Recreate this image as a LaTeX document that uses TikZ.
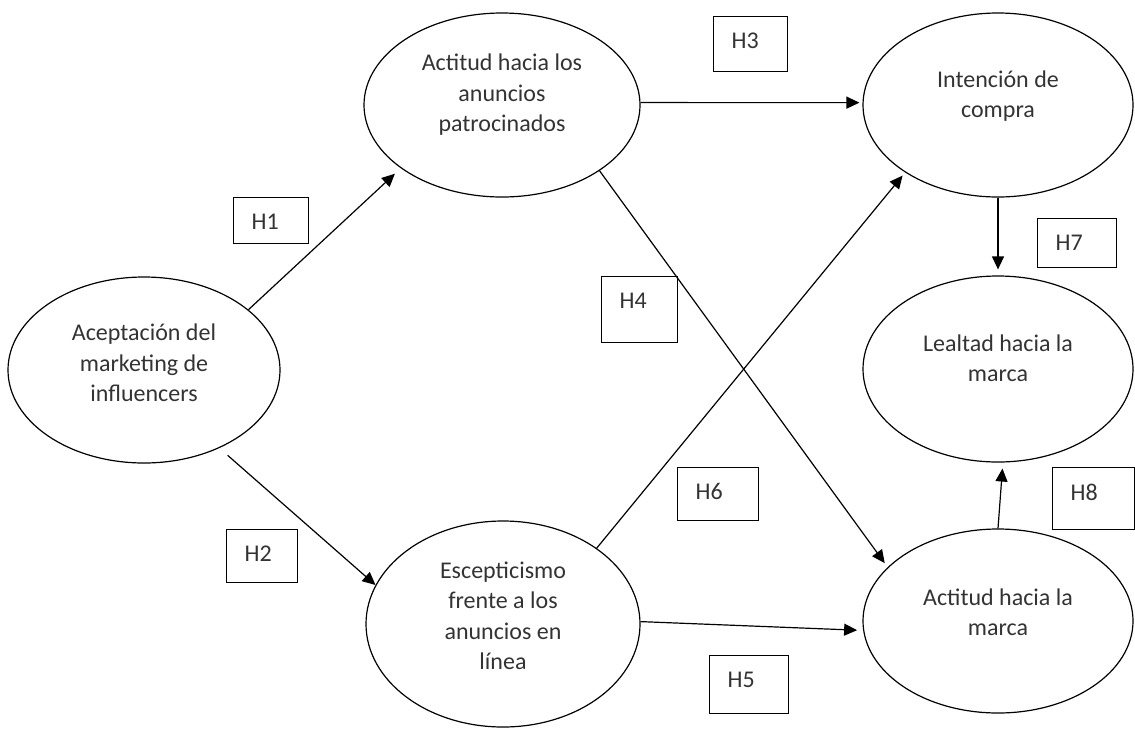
\documentclass[tikz,border=0pt]{standalone}
\usepackage{fontspec}
\setmainfont{Carlito}
\usetikzlibrary{arrows.meta}
\usetikzlibrary{shapes}

\begin{document}
\begin{tikzpicture}[x=1pt,y=-1pt,line width=1.2pt]
  \tikzstyle{every node}=[font=\fontsize{24}{30.5}\selectfont, text=black!80]
  \tikzstyle{construct}=[draw, ellipse, inner sep=0pt, minimum width=270pt, minimum height=184pt]
  \tikzstyle{ctext}=[align=center, inner sep=0pt]
  \tikzstyle{hbox}=[draw, rectangle, inner sep=0pt, anchor=north west]
  \tikzstyle{hlab}=[anchor=north west, inner sep=0pt, xshift=18pt, yshift=-16pt]
  \tikzstyle{hyp}=[-{Triangle[length=13pt,width=12pt]}]
  \useasboundingbox (0,0) rectangle (1135,729);

  \node[construct, minimum width=272pt, minimum height=186pt, label={[ctext,yshift=7pt]center:Aceptación del\\marketing de\\influencers}] (acep) at (144,370) {};
  \node[construct, minimum width=276pt, label={[ctext,yshift=10pt]center:Actitud hacia los\\anuncios\\patrocinados}] (anun) at (502,105) {};
  \node[construct, minimum width=274pt, minimum height=206pt, label={[ctext,yshift=8pt]center:Escepticismo\\frente a los\\anuncios en\\línea}] (escep) at (503,624) {};
  \node[construct, label={[ctext,yshift=9pt]center:Intención de\\compra}] (inten) at (998,105) {};
  \node[construct, minimum height=186pt, label={[ctext,yshift=11pt]center:Lealtad hacia la\\marca}] (leal) at (998,369) {};
  \node[construct, label={[ctext,yshift=9pt]center:Actitud hacia la\\marca}] (amarca) at (998,621) {};

  \node[hbox, minimum width=75pt, minimum height=46pt, label={[hlab]north west:H1}] (h1) at (233,197) {};
  \node[hbox, minimum width=71pt, minimum height=53pt, label={[hlab]north west:H2}] (h2) at (226,529) {};
  \node[hbox, minimum width=74pt, minimum height=55pt, label={[hlab]north west:H3}] (h3) at (713,16) {};
  \node[hbox, minimum width=76pt, minimum height=66pt, label={[hlab]north west:H4}] (h4) at (601,276) {};
  \node[hbox, minimum width=79pt, minimum height=58pt, label={[hlab]north west:H5}] (h5) at (709,655) {};
  \node[hbox, minimum width=81pt, minimum height=53pt, label={[hlab]north west:H6}] (h6) at (677,467) {};
  \node[hbox, minimum width=79pt, minimum height=49pt, label={[hlab]north west:H7}] (h7) at (1037,218) {};
  \node[hbox, minimum width=82pt, minimum height=62pt, label={[hlab]north west:H8}] (h8) at (1052,467) {};

  \draw[hyp, shorten >=8pt]  (acep.30)     -- (anun.212);
  \draw[hyp, shorten <=11pt] (acep.-46)    -- (escep.163);
  \draw[hyp, shorten >=3pt]  (anun.1)      -- (inten.179);
  \draw[hyp, shorten >=5pt]  (anun.-34)    -- (amarca.154);
  \draw[hyp, shorten >=6pt]  (escep.1)     -- (amarca.184);
  \draw[hyp, shorten >=4pt]  (escep.39)    -- (inten.216);
  \draw[hyp, shorten >=6pt]  (inten.south) -- (leal.north);
  \draw[hyp, shorten >=6pt]  (amarca.north) -- (leal.-87);
\end{tikzpicture}
\end{document}
